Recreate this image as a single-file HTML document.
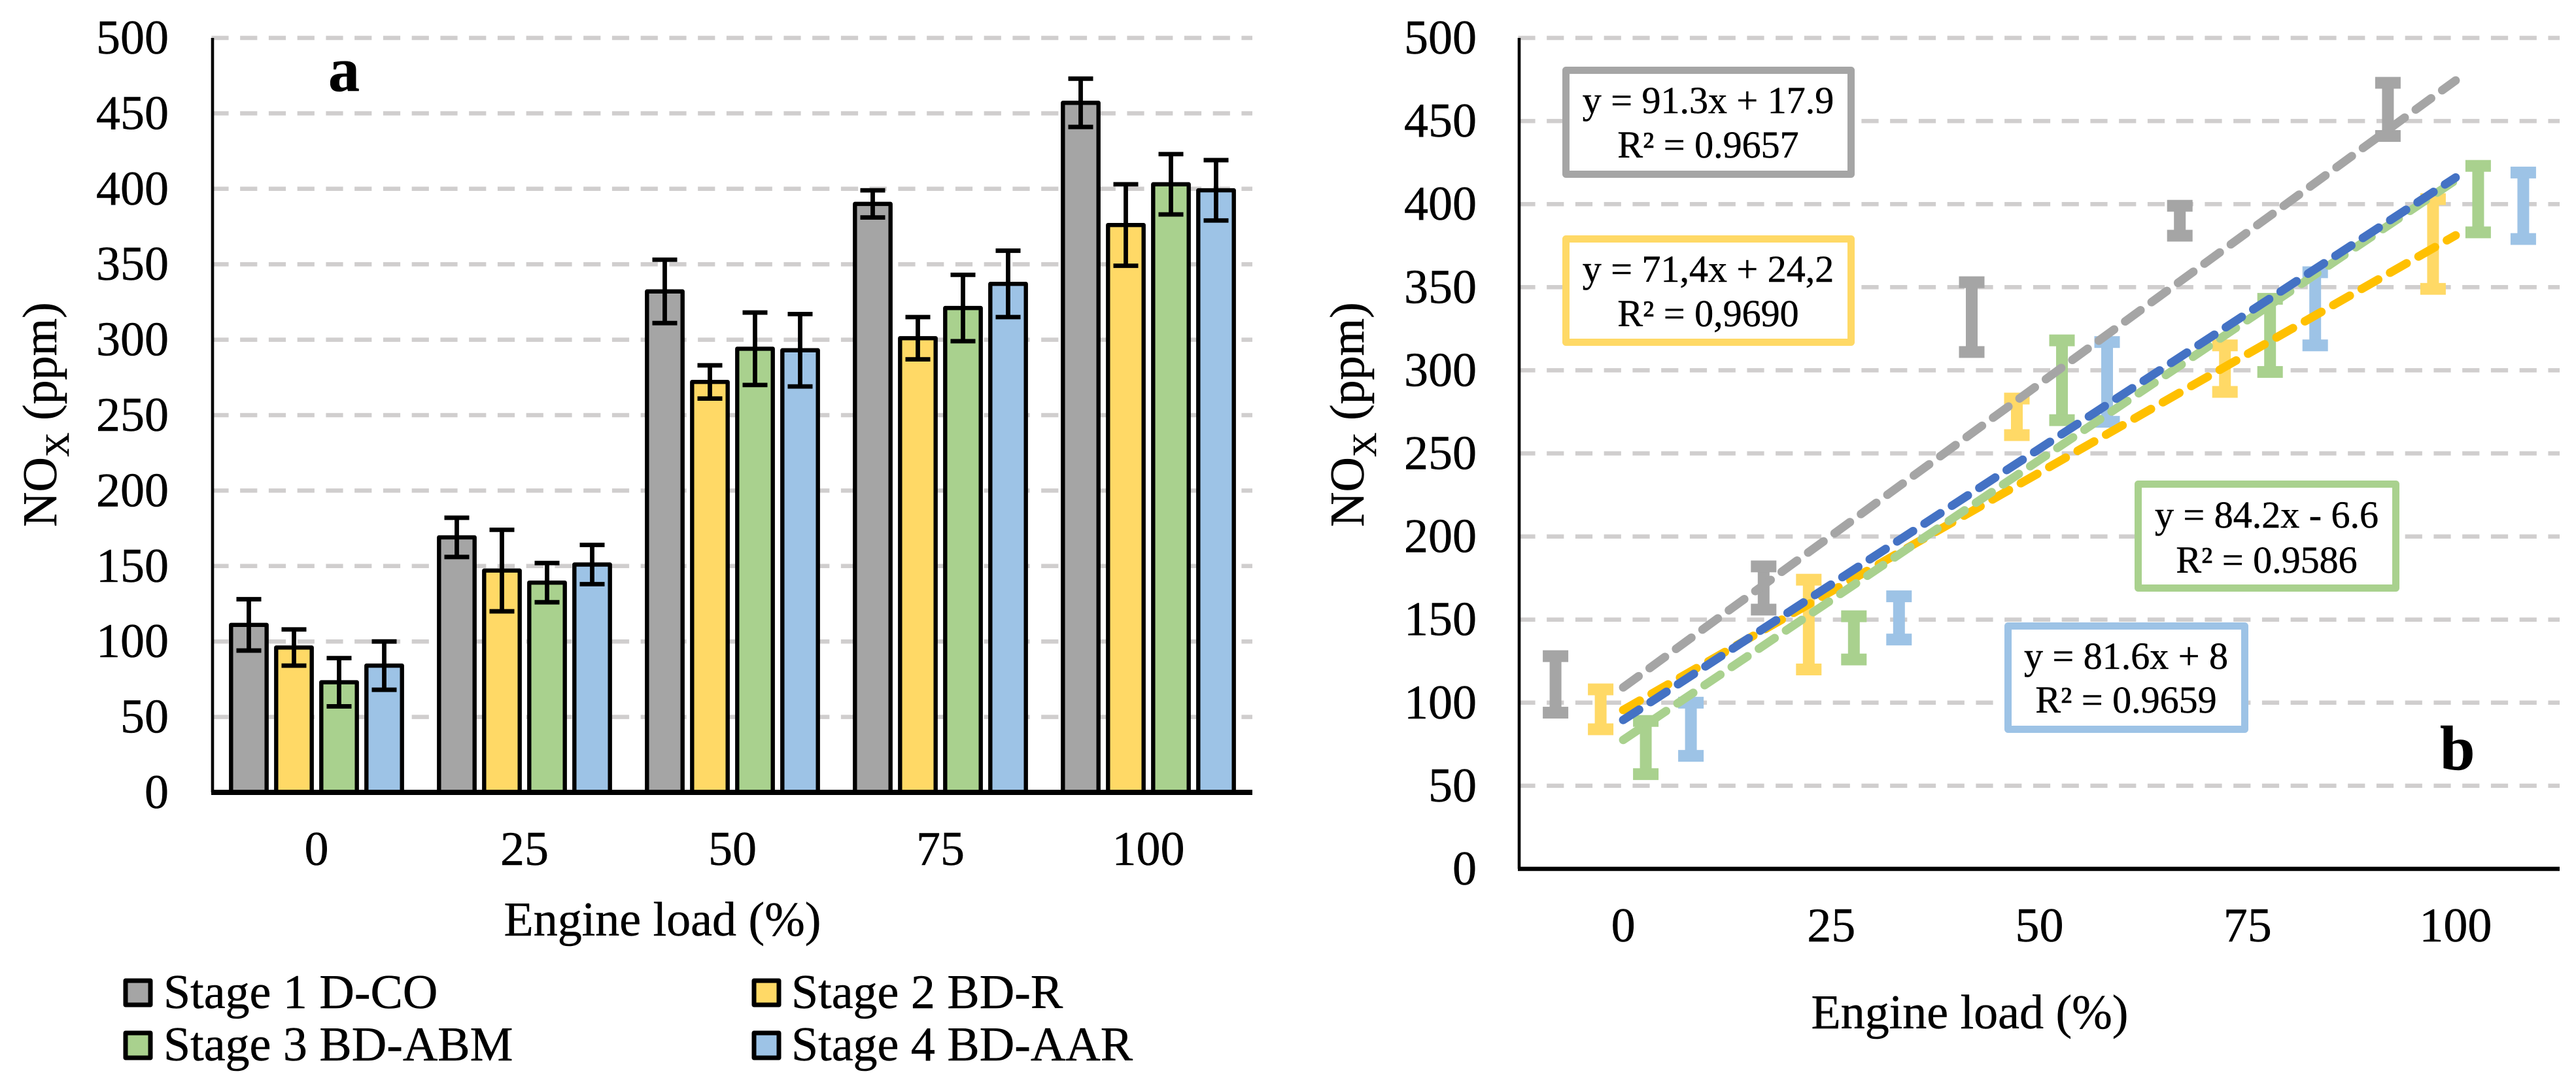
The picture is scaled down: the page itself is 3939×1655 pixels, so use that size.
<!DOCTYPE html>
<html lang="en">
<head>
<meta charset="utf-8">
<title>NOx emissions by engine load</title>
<style>
html,body{margin:0;padding:0;background:#fff;width:3939px;height:1655px;overflow:hidden}
svg{display:block}
text{font-family:"Liberation Serif","Times New Roman",serif;fill:#000;stroke:#000;stroke-width:0.5px}
</style>
</head>
<body>
<svg id="figure" xmlns="http://www.w3.org/2000/svg" width="3939" height="1655" viewBox="0 0 3939 1655">
  <rect x="0" y="0" width="3939" height="1655" fill="#ffffff"/>
  <g id="panelA"></g>
  <g id="panelB"></g>

  <text x="502" y="139" font-size="96" font-weight="bold">a</text>
  <text x="3731" y="1177" font-size="96" font-weight="bold">b</text>

  <text transform="translate(86,806) rotate(-90)" font-size="74">NO<tspan dy="19" font-size="52">X</tspan><tspan dy="-19"> (ppm)</tspan></text>
  <text transform="translate(2085,806) rotate(-90)" font-size="74">NO<tspan dy="19" font-size="52">X</tspan><tspan dy="-19"> (ppm)</tspan></text>
  <text x="1013" y="1431" font-size="74" text-anchor="middle">Engine load (%)</text>
  <text x="3012" y="1573" font-size="74" text-anchor="middle">Engine load (%)</text>

  <g>
    <g>
      <rect x="192" y="1500" width="38" height="37" fill="#a5a5a5" stroke="#000" stroke-width="7" stroke-linejoin="round"/>
      <text x="250" y="1542" font-size="74">Stage 1 D-CO</text>
    </g>
    <g>
      <rect x="1153" y="1500" width="38" height="37" fill="#ffd966" stroke="#000" stroke-width="7" stroke-linejoin="round"/>
      <text x="1210" y="1542" font-size="74">Stage 2 BD-R</text>
    </g>
    <g>
      <rect x="192" y="1580" width="38" height="38" fill="#a9d18e" stroke="#000" stroke-width="7" stroke-linejoin="round"/>
      <text x="250" y="1622" font-size="74">Stage 3 BD-ABM</text>
    </g>
    <g>
      <rect x="1153" y="1580" width="38" height="38" fill="#9dc3e6" stroke="#000" stroke-width="7" stroke-linejoin="round"/>
      <text x="1210" y="1622" font-size="74">Stage 4 BD-AAR</text>
    </g>
  </g>

  <g id="annotations">
    <g>
      <rect x="2394.5" y="107.5" width="436" height="159" fill="#fff" stroke="#a5a5a5" stroke-width="11" stroke-linejoin="round"/>
      <text x="2612" y="173" font-size="58" text-anchor="middle">y = 91.3x + 17.9</text>
      <text x="2612" y="241" font-size="58" text-anchor="middle">R² = 0.9657</text>
    </g>
    <g>
      <rect x="2394.5" y="365.5" width="436" height="158" fill="#fff" stroke="#ffd966" stroke-width="11" stroke-linejoin="round"/>
      <text x="2612" y="431" font-size="58" text-anchor="middle">y = 71,4x + 24,2</text>
      <text x="2612" y="499" font-size="58" text-anchor="middle">R² = 0,9690</text>
    </g>
    <g>
      <rect x="3269.5" y="740.5" width="394" height="159" fill="#fff" stroke="#a9d18e" stroke-width="11" stroke-linejoin="round"/>
      <text x="3466" y="807" font-size="58" text-anchor="middle">y = 84.2x - 6.6</text>
      <text x="3466" y="876" font-size="58" text-anchor="middle">R² = 0.9586</text>
    </g>
    <g>
      <rect x="3070.5" y="957.5" width="362" height="158" fill="#fff" stroke="#9dc3e6" stroke-width="11" stroke-linejoin="round"/>
      <text x="3251" y="1023" font-size="58" text-anchor="middle">y = 81.6x + 8</text>
      <text x="3251" y="1090" font-size="58" text-anchor="middle">R² = 0.9659</text>
    </g>
  </g>
</svg>

<script>
// ---- data ----
const categories = ['0', '25', '50', '75', '100'];
const yTicks = [0, 50, 100, 150, 200, 250, 300, 350, 400, 450, 500];
const stage1Values = [111, 169, 332, 390, 457];
const stage2Values = [96, 147, 272, 301, 376];
const stage3Values = [73, 139, 294, 321, 403];
const stage4Values = [84, 151, 293, 337, 399];
const stage1Errors = [17, 13, 21, 9, 16];
const stage2Errors = [12, 27, 11, 14, 27];
const stage3Errors = [16, 13, 24, 22, 20];
const stage4Errors = [16, 13, 24, 22, 20];
const trendSlopes = [91.3, 71.4, 84.2, 81.6];
const trendIntercepts = [17.9, 24.2, -6.6, 8];

// ---- styling ----
const NS = 'http://www.w3.org/2000/svg';
const allValues = [stage1Values, stage2Values, stage3Values, stage4Values];
const allErrors = [stage1Errors, stage2Errors, stage3Errors, stage4Errors];
const fillColors = ['#a5a5a5', '#ffd966', '#a9d18e', '#9dc3e6'];
const trendColors = ['#a5a5a5', '#ffc000', '#a9d18e', '#4472c4'];
const seriesStep = 69;
const seriesCount = allValues.length;

// ---- axes ----
const A = {left: 325, right: 1915, top: 58, bottom: 1212};
const B = {left: 2323, right: 3914, top: 58, bottom: 1329};
const yMax = 500;

function bandX(p, c) {
  return p.left + (p.right - p.left) * (c + 0.5) / categories.length;
}
function seriesX(p, c, s) {
  return bandX(p, c) + (s - (seriesCount - 1) / 2) * seriesStep;
}
function valueY(p, v) {
  return p.bottom - (p.bottom - p.top) * v / yMax;
}

function make(parent, tag, attrs, content) {
  const node = document.createElementNS(NS, tag);
  for (const k in attrs) node.setAttribute(k, attrs[k]);
  if (content !== undefined) node.textContent = content;
  parent.appendChild(node);
  return node;
}

function drawFrameBack(root, p, tickRight, labelBaseline) {
  for (const t of yTicks) {
    if (t > 0) {
      const grid = make(root, 'line', {x1: p.left - 1.6, x2: p.right, y1: valueY(p, t), y2: valueY(p, t), stroke: '#d0cece', 'stroke-width': 6.5, 'stroke-dasharray': '26.2 17.55'});
      
      
    }
    const tick = make(root, 'text', {x: tickRight, y: valueY(p, t) + 24, 'font-size': 74, 'text-anchor': 'end'}, String(t));
    
    
  }
  categories.forEach(function (cat, c) {
    const label = make(root, 'text', {x: bandX(p, c), y: labelBaseline, 'font-size': 74, 'text-anchor': 'middle'}, cat);
    
    
  });
}

function drawAxes(root, p, xWidth) {
  const yAxis = make(root, 'line', {x1: p.left, x2: p.left, y1: p.top, y2: p.bottom, stroke: '#000', 'stroke-width': 4.6});
  
  
  const xAxis = make(root, 'line', {x1: p.left - 2, x2: p.right, y1: p.bottom, y2: p.bottom, stroke: '#000', 'stroke-width': xWidth});
  
  
}

// ---- panel a: bars with error whiskers ----
const panelA = document.getElementById('panelA');
drawFrameBack(panelA, A, 258, 1323);
allValues.forEach(function (values, s) {
  values.forEach(function (v, c) {
    const cx = seriesX(A, c, s);
    const top = valueY(A, v);
    const bar = make(panelA, 'rect', {x: cx - 27.2, y: top, width: 54.4, height: A.bottom - top, fill: fillColors[s], stroke: '#000', 'stroke-width': 6.4, 'stroke-linejoin': 'round'});
    
    
  });
});
allValues.forEach(function (values, s) {
  values.forEach(function (v, c) {
    const cx = seriesX(A, c, s);
    const hi = valueY(A, v + allErrors[s][c]);
    const lo = valueY(A, v - allErrors[s][c]);
    const whisker = make(panelA, 'path', {d: 'M' + (cx - 19) + ' ' + hi + 'H' + (cx + 19) + 'M' + cx + ' ' + hi + 'V' + lo + 'M' + (cx - 19) + ' ' + lo + 'H' + (cx + 19), fill: 'none', stroke: '#000', 'stroke-width': 6.8});
    
    
  });
});
drawAxes(panelA, A, 8);

// ---- panel b: floating ranges and trend lines ----
const panelB = document.getElementById('panelB');
drawFrameBack(panelB, B, 2258, 1440);
allValues.forEach(function (values, s) {
  values.forEach(function (v, c) {
    const cx = seriesX(B, c, s);
    const hi = valueY(B, v + allErrors[s][c]);
    const lo = valueY(B, v - allErrors[s][c]);
    const range = make(panelB, 'g', {fill: fillColors[s]});
    
    
    make(range, 'rect', {x: cx - 9, y: hi, width: 18, height: lo - hi});
    make(range, 'rect', {x: cx - 19.5, y: hi - 9, width: 39, height: 18});
    make(range, 'rect', {x: cx - 19.5, y: lo - 9, width: 39, height: 18});
  });
});
trendSlopes.forEach(function (m, s) {
  const n0 = 1;
  const n1 = categories.length;
  const line = make(panelB, 'line', {
    x1: bandX(B, n0 - 1), y1: valueY(B, m * n0 + trendIntercepts[s]),
    x2: bandX(B, n1 - 1), y2: valueY(B, m * n1 + trendIntercepts[s]),
    stroke: trendColors[s], 'stroke-width': 13, 'stroke-linecap': 'round', 'stroke-dasharray': '29 21'
  });
  
  
});
drawAxes(panelB, B, 6.5);
</script>
</body>
</html>
